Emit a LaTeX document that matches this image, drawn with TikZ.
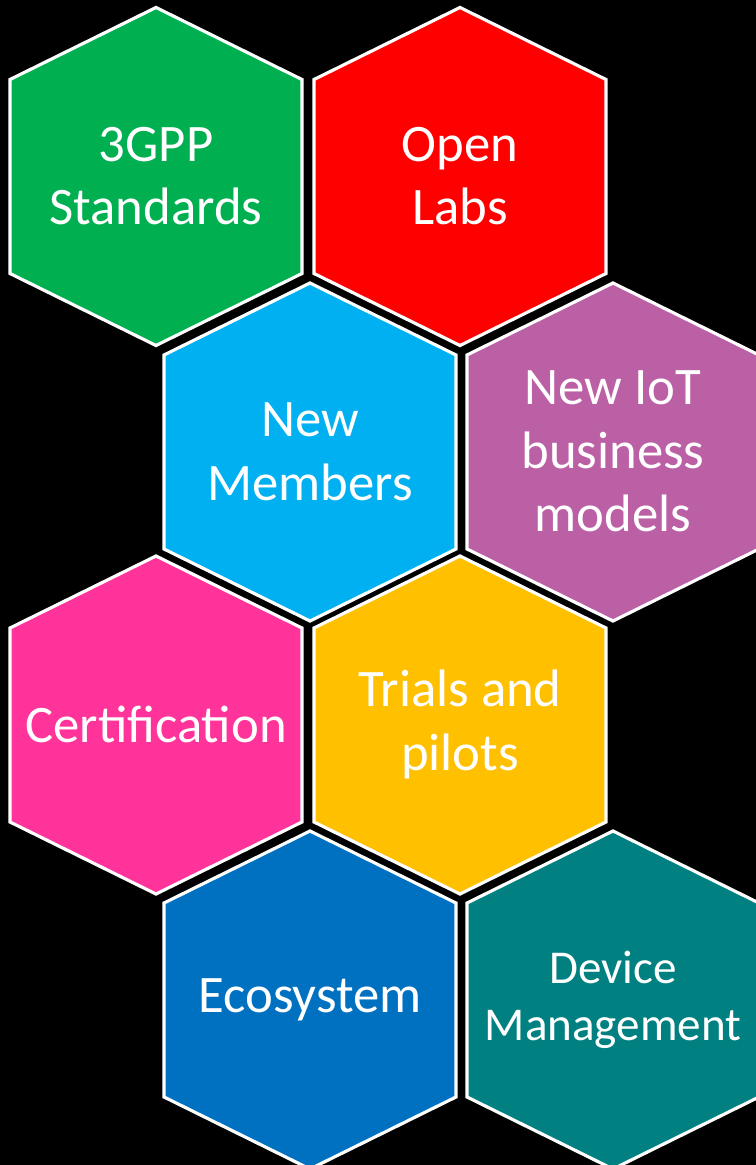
\documentclass[tikz,border=0pt]{standalone}
\usepackage{fontspec}
\setmainfont{Carlito}
\usetikzlibrary{positioning}

\definecolor{hexgreen}{HTML}{00B050}
\definecolor{hexred}{HTML}{FF0000}
\definecolor{hexcyan}{HTML}{00B0F0}
\definecolor{hexpurple}{HTML}{BC60A6}
\definecolor{hexpink}{HTML}{FF3399}
\definecolor{hexyellow}{HTML}{FFC000}
\definecolor{hexblue}{HTML}{0070C0}
\definecolor{hexteal}{HTML}{008080}

% one cell: [text style], name, centre, colour, text
\newcommand{\hexcell}[5][hextext]{%
  \draw[hexline, fill=#4] (#3) ++(0,-168.5) -- ++(146,72) -- ++(0,194)
     -- ++(-146,72) -- ++(-146,-72) -- ++(0,-194) -- cycle;
  \node[#1] (#2) at (#3) {#5};
}

\begin{document}
\begin{tikzpicture} [
    x=0.02cm, y=-0.02cm,   % one unit is one pixel, y going down
    ]
% -------------------------------------------------
\tikzset{
  hexline/.style={draw=white, line width=1.8pt, line join=miter},
  hextext/.style={text=white, align=center, inner sep=0pt,
                  font=\fontsize{30}{36.3}\selectfont},
  smalltext/.style={hextext, font=\fontsize{26.8}{32.3}\selectfont}
}

    \fill[black] (0,0) rectangle (756,1165);
    \clip (0,0) rectangle (756,1165);

    \hexcell{std}{156,176}{hexgreen}{3GPP\\Standards}
    \hexcell{lab}{460,176}{hexred}{Open\\Labs}
    \hexcell{mem}{310,451.5}{hexcyan}{New\\Members}
    \hexcell{biz}{613,451.5}{hexpurple}{New IoT\\business\\models}
    \hexcell{cert}{156,724.5}{hexpink}{Certification}
    \hexcell{tri}{460,724.5}{hexyellow}{Trials and\\pilots}
    \hexcell{eco}{310,999.5}{hexblue}{Ecosystem}
    \hexcell[smalltext]{dev}{613,999.5}{hexteal}{Device\\Management}

\end{tikzpicture}
\end{document}
